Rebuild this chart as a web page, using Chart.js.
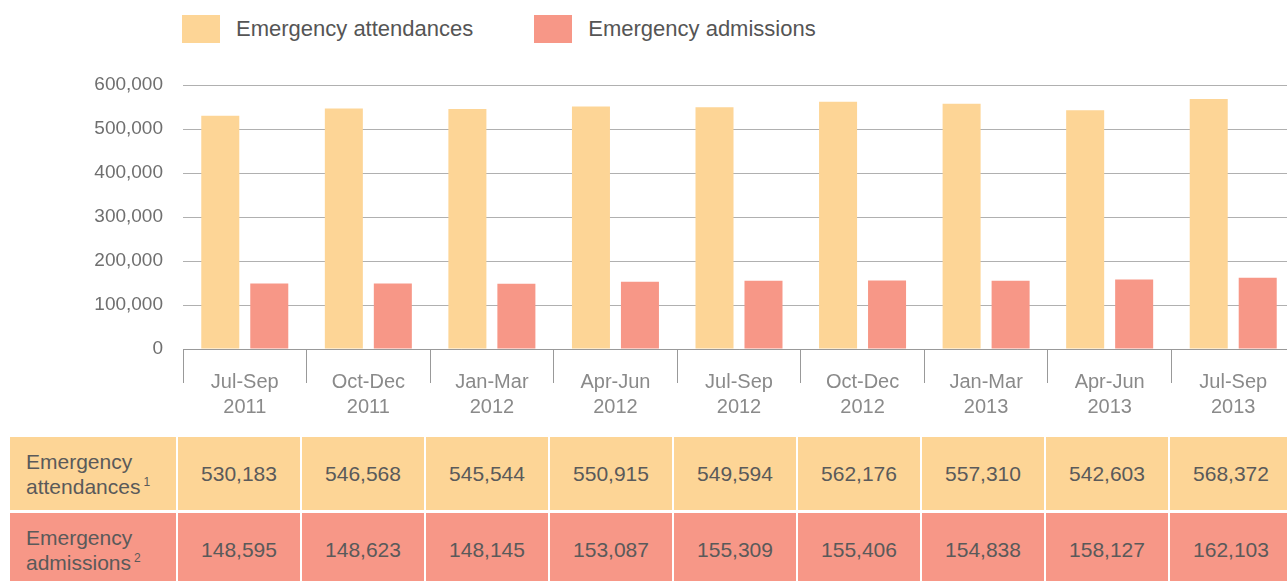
<!DOCTYPE html>
<html>
<head>
<meta charset="utf-8">
<script src="https://cdn.jsdelivr.net/npm/chart.js@4.4.1/dist/chart.umd.min.js"></script>
<style>
  body { margin: 0; width: 1287px; height: 581px; overflow: hidden; background: #fff;
         font-family: "Liberation Sans", Arial, Helvetica, sans-serif; }
  #wrap { position: relative; width: 1287px; height: 581px; overflow: hidden; }
  #chartBox { position: absolute; left: 0; top: 0; width: 1300px; height: 430px; }
  #legend { position: absolute; left: 182px; top: 15px; display: flex; align-items: center; }
  .item { display: flex; align-items: center; margin-right: 61px; }
  .swatch { width: 38px; height: 28px; margin-right: 16px; }
  .item span { font-size: 22px; color: #555; }
  #dataTable { position: absolute; left: 8px; top: 434px; width: 1286px; border-collapse: separate;
               border-spacing: 2px 3px; table-layout: fixed; }
  #dataTable td { padding: 0; height: 73px; font-size: 21px; color: #5a5a5a; text-align: center; }
  #dataTable td.head { text-align: left; padding-left: 16px; line-height: 25px; width: 150px; }
  #dataTable td.num { width: 122px; }
  sup { font-size: 12px; vertical-align: 8px; line-height: 0; margin-left: 3px; }
</style>
</head>
<body>
<div id="wrap">
  <div id="legend"></div>
  <div id="chartBox"><canvas id="myChart" width="1300" height="430"></canvas></div>
  <table id="dataTable"></table>
</div>
<script>
const categories = [
    ['Jul-Sep', '2011'], ['Oct-Dec', '2011'], ['Jan-Mar', '2012'],
    ['Apr-Jun', '2012'], ['Jul-Sep', '2012'], ['Oct-Dec', '2012'],
    ['Jan-Mar', '2013'], ['Apr-Jun', '2013'], ['Jul-Sep', '2013']
];
const attendances = [530183, 546568, 545544, 550915, 549594, 562176, 557310, 542603, 568372];
const admissions = [148595, 148623, 148145, 153087, 155309, 155406, 154838, 158127, 162103];
const yTicks = [0, 100000, 200000, 300000, 400000, 500000, 600000];

const seriesLabels = ['Emergency attendances', 'Emergency admissions'];
const rowLabels = [['Emergency', 'attendances', '1'], ['Emergency', 'admissions', '2']];
const colors = ['#fdd596', '#f79787'];

function fmt(v) {
    return v.toLocaleString('en-US');
}

// legend
var legend = document.getElementById('legend');
seriesLabels.forEach(function (label, i) {
    var item = document.createElement('div');
    item.className = 'item';
    item.innerHTML = '<div class="swatch" style="background:' + colors[i] + '"></div><span>' + label + '</span>';
    legend.appendChild(item);
});

// table under the chart
var table = document.getElementById('dataTable');
[attendances, admissions].forEach(function (series, i) {
    var row = table.insertRow();
    var head = row.insertCell(0);
    head.className = 'head';
    head.style.background = colors[i];
    head.innerHTML = rowLabels[i][0] + '<br>' + rowLabels[i][1] + '<sup>' + rowLabels[i][2] + '</sup>';
    for (var j = 0; j < series.length; j++) {
        var cell = row.insertCell(j + 1);
        cell.className = 'num';
        cell.style.background = colors[i];
        cell.innerHTML = fmt(series[j]);
    }
});

var ctx = document.getElementById('myChart');
var myChart = new Chart(ctx, {
    type: 'bar',
    data: {
        labels: categories,
        datasets: [{
                label: seriesLabels[0],
                data: attendances,
                backgroundColor: colors[0],
                categoryPercentage: 0.793,
                barPercentage: 0.776
            }, {
                label: seriesLabels[1],
                data: admissions,
                backgroundColor: colors[1],
                categoryPercentage: 0.793,
                barPercentage: 0.776
            }]
    },
    options: {
        responsive: false,
        animation: false,
        layout: {padding: {top: 85, right: 5, left: 0, bottom: 0}},
        plugins: {
            legend: {display: false},
            tooltip: {enabled: false}
        },
        scales: {
            y: {
                min: yTicks[0],
                max: yTicks[yTicks.length - 1],
                afterBuildTicks: function (scale) {
                    scale.ticks = yTicks.map(function (v) { return {value: v}; });
                },
                afterFit: function (scale) { scale.width = 183; },
                border: {display: false},
                grid: {color: '#b0b0b0', drawTicks: false, lineWidth: 1},
                ticks: {
                    padding: 20,
                    color: '#6f6f6f',
                    font: {family: '"Liberation Sans", Arial, sans-serif', size: 19},
                    callback: function (v) { return fmt(v); }
                }
            },
            x: {
                afterFit: function (scale) { scale.height = 81; },
                border: {display: true, color: '#999'},
                grid: {offset: true, drawOnChartArea: false, tickLength: 34, color: '#999'},
                ticks: {
                    padding: -13,
                    maxRotation: 0,
                    color: '#8a8a8a',
                    font: {family: '"Liberation Sans", Arial, sans-serif', size: 20, lineHeight: 1.25}
                }
            }
        }
    }
});
</script>
</body>
</html>
